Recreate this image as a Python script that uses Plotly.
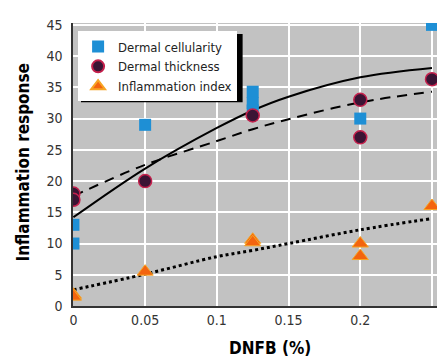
import plotly.graph_objects as go

# --- data ---
cell_x = [0, 0, 0.05, 0.125, 0.125, 0.125, 0.2, 0.25]
cell_y = [13, 10, 29, 34.3, 32.5, 31.3, 30, 45]

thick_x = [0, 0, 0.05, 0.125, 0.2, 0.2, 0.25]
thick_y = [18, 17, 20, 30.5, 33, 27, 36.3]

infl_x = [0, 0, 0.05, 0.125, 0.125, 0.2, 0.2, 0.25]
infl_y = [1.8, 1.5, 5.5, 10.6, 10.2, 10, 8, 16]

fit_x = [0, 0.05, 0.1, 0.125, 0.15, 0.2, 0.25]
fit_cell = [14.2, 22.0, 28.5, 31.3, 33.5, 36.6, 38.1]
fit_thick = [17.6, 22.6, 26.4, 28.3, 29.9, 32.6, 34.3]
fit_infl = [2.6, 5.1, 7.9, 8.9, 10.0, 12.2, 14.0]

x_ticks = [0, 0.05, 0.1, 0.15, 0.2, 0.25]
x_labels = ["0", "0.05", "0.1", "0.15", "0.2", "0.25"]
y_ticks = [0, 5, 10, 15, 20, 25, 30, 35, 40, 45]

FONT = "DejaVu Sans Condensed, Roboto, sans-serif"

fig = go.Figure()

fig.add_trace(go.Scatter(x=fit_x, y=fit_cell, mode="lines", line=dict(color="black", width=2, shape="spline"),
                         showlegend=False, hoverinfo="skip"))
fig.add_trace(go.Scatter(x=fit_x, y=fit_thick, mode="lines", line=dict(color="black", width=2, dash="10px,7px", shape="spline"),
                         showlegend=False, hoverinfo="skip"))
fig.add_trace(go.Scatter(x=fit_x, y=fit_infl, mode="lines", line=dict(color="black", width=3, dash="3px,3px", shape="spline"),
                         showlegend=False, hoverinfo="skip"))

fig.add_trace(go.Scatter(x=cell_x, y=cell_y, mode="markers", name="Dermal cellularity",
                         marker=dict(symbol="square", size=12, color="#1e8fd5", line=dict(width=0))))
fig.add_trace(go.Scatter(x=thick_x, y=thick_y, mode="markers", name="Dermal thickness",
                         marker=dict(symbol="circle", size=13, color="#3a1434", line=dict(width=1.5, color="#c4204c"))))
fig.add_trace(go.Scatter(x=infl_x, y=infl_y, mode="markers", name="Inflammation index",
                         marker=dict(symbol="triangle-up", size=14, color="#f3640f", line=dict(width=1, color="#f7a524"))))

# legend shadow
fig.add_shape(type="rect", xref="paper", yref="paper", x0=0.022, x1=0.466, y0=0.72, y1=0.961,
              fillcolor="black", line=dict(width=0), layer="above")

fig.update_layout(
    width=445, height=362,
    margin=dict(l=73, r=8, t=23, b=56),
    paper_bgcolor="white",
    plot_bgcolor="#c2c2c2",
    font=dict(family=FONT, size=14, color="#333333"),
    legend=dict(x=0.014, y=0.97, xanchor="left", yanchor="top", bgcolor="white",
                borderwidth=0, font=dict(size=13, color="#222222"),
                tracegroupgap=0, itemsizing="constant", itemwidth=30),
    xaxis=dict(range=[-0.0003, 0.2535], tickvals=x_ticks, ticktext=x_labels,
               showgrid=True, gridcolor="white", gridwidth=1.5, zeroline=False,
               showline=True, linecolor="#333333", linewidth=1.5, ticks="", ticklen=0),
    yaxis=dict(range=[0, 45.3], tickvals=y_ticks, ticklabelstandoff=6,
               showgrid=True, gridcolor="white", gridwidth=1.5, zeroline=False,
               showline=True, linecolor="#333333", linewidth=1.5, ticks="", ticklen=0),
    annotations=[
        dict(text="<b>DNFB (%)</b>", xref="paper", yref="paper", x=0.542, y=-0.148,
             xanchor="center", yanchor="middle", showarrow=False,
             font=dict(family=FONT, size=17, color="black")),
        dict(text="<b>Inflammation response</b>", xref="paper", yref="paper", x=-0.14, y=0.507,
             xanchor="center", yanchor="middle", showarrow=False, textangle=-90,
             font=dict(family=FONT, size=17, color="black")),
    ],
)

fig.write_html("out.html")
